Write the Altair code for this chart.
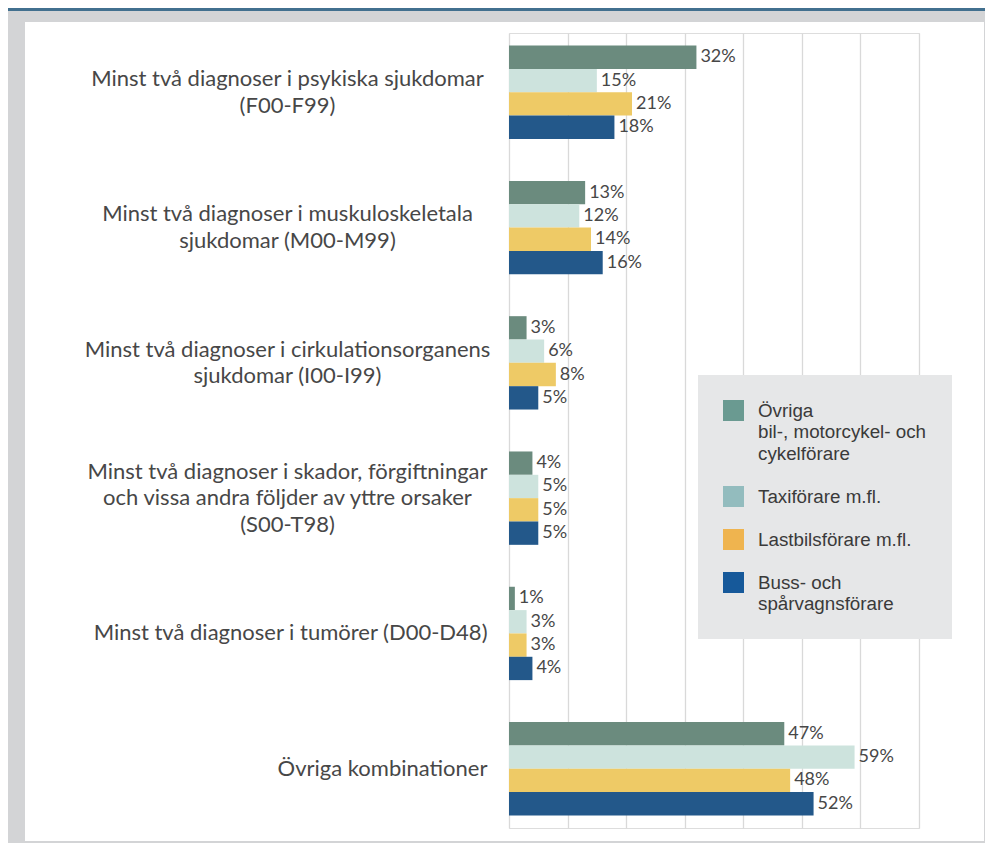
import altair as alt
import pandas as pd

categories = [
    "Minst två diagnoser i psykiska sjukdomar\n(F00-F99)",
    "Minst två diagnoser i muskuloskeletala\nsjukdomar (M00-M99)",
    "Minst två diagnoser i cirkulationsorganens\nsjukdomar (I00-I99)",
    "Minst två diagnoser i skador, förgiftningar\noch vissa andra följder av yttre orsaker\n(S00-T98)",
    "Minst två diagnoser i tumörer (D00-D48)",
    "Övriga kombinationer",
]
series = [
    "Övriga\nbil-, motorcykel- och\ncykelförare",
    "Taxiförare m.fl.",
    "Lastbilsförare m.fl.",
    "Buss- och\nspårvagnsförare",
]
ovriga = [32, 13, 3, 4, 1, 47]
taxi = [15, 12, 6, 5, 3, 59]
lastbil = [21, 14, 8, 5, 3, 48]
buss = [18, 16, 5, 5, 4, 52]

bar_colors = ["#6b8b7e", "#cde3dd", "#eeca66", "#23588a"]
legend_colors = ["#6a9a91", "#93bcbe", "#efb44f", "#16599a"]

rows = []
for s, vals in zip(series, [ovriga, taxi, lastbil, buss]):
    for c, v in zip(categories, vals):
        rows.append({"category": c, "series": s, "value": v})
df = pd.DataFrame(rows)

FONT = "Lato"
FRAME = "#d3d4d6"
LH = 26.5
nlines = "length(split(datum.label, '\\n'))"

y_enc = alt.Y(
    "category:N",
    sort=categories,
    scale=alt.Scale(paddingInner=0.31, paddingOuter=0.093),
    axis=alt.Axis(
        title=None,
        domain=False,
        ticks=False,
        labelExpr="split(datum.label, '\\n')",
        labelFont=FONT,
        labelFontSize=22,
        labelColor="#474747",
        labelLineHeight=LH,
        labelLimit=600,
        labelAlign=alt.condition(f"{nlines} == 1", alt.value("right"), alt.value("center")),
        labelPadding=alt.condition(f"{nlines} == 1", alt.value(22), alt.value(222)),
        labelOffset={
            "condition": [
                {"test": f"{nlines} == 3", "value": -LH},
                {"test": f"{nlines} == 2", "value": -LH / 2},
            ],
            "value": 0,
        },
    ),
)
yoff = alt.YOffset("series:N", sort=series, scale=alt.Scale(paddingInner=0, paddingOuter=0))
x_enc = alt.X(
    "value:Q",
    scale=alt.Scale(domain=[0, 70], nice=False),
    axis=alt.Axis(
        title=None,
        values=[0, 10, 20, 30, 40, 50, 60, 70],
        labels=False,
        ticks=False,
        domain=False,
        grid=True,
        gridColor="#d9d9d9",
        gridWidth=1.3,
    ),
)

one = pd.DataFrame({"k": [0]})
# grey frame around the white panel (decoration)
frame_left = alt.Chart(one).mark_rule(color=FRAME, strokeWidth=17).encode(
    x=alt.value(-492.5), y=alt.value(-25), y2=alt.value(810)
)
frame_top = alt.Chart(one).mark_rule(color=FRAME, strokeWidth=14).encode(
    x=alt.value(-501), x2=alt.value(476), y=alt.value(-18)
)
frame_bottom = alt.Chart(one).mark_rule(color=FRAME, strokeWidth=2).encode(
    x=alt.value(-501), x2=alt.value(476), y=alt.value(809)
)
frame_right = alt.Chart(one).mark_rule(color=FRAME, strokeWidth=1).encode(
    x=alt.value(475.5), y=alt.value(-25), y2=alt.value(810)
)
topline = alt.Chart(one).mark_rule(color="#42708f", strokeWidth=3).encode(
    x=alt.value(-501), x2=alt.value(476), y=alt.value(-23.5)
)

bars = alt.Chart(df).mark_bar().encode(
    y=y_enc,
    yOffset=yoff,
    x=x_enc,
    color=alt.Color("series:N", sort=series, scale=alt.Scale(domain=series, range=bar_colors), legend=None),
)

labels = alt.Chart(df).transform_calculate(
    lab="datum.value + '%'"
).mark_text(align="left", baseline="middle", dx=4, font=FONT, fontSize=18, color="#474747").encode(
    y=alt.Y("category:N", sort=categories),
    yOffset=yoff,
    x=alt.X("value:Q"),
    text="lab:N",
)

legend_layer = alt.Chart(df).mark_rect(strokeWidth=0).encode(
    x=alt.value(0), x2=alt.value(0), y=alt.value(0), y2=alt.value(0),
    color=alt.Color(
        "series:N",
        sort=series,
        scale=alt.Scale(domain=series, range=legend_colors),
        legend=alt.Legend(
            title=None,
            orient="none",
            legendX=189,
            legendY=342,
            padding=25,
            fillColor="#e6e7e8",
            symbolType="square",
            symbolSize=441,
            symbolStrokeWidth=0,
            symbolOpacity=1,
            labelExpr="split(datum.label, '\\n')",
            labelFont="Liberation Sans",
            labelFontSize=18.8,
            labelColor="#3a3a3a",
            labelLimit=400,
            labelOffset=14,
            rowPadding=22,
        ),
    ),
)

chart = alt.layer(
    bars, labels, legend_layer, frame_left, frame_top, frame_bottom, frame_right, topline
).resolve_scale(
    color="independent"
).properties(
    width=410,
    height=795,
    autosize=alt.AutoSizeParams(type="none"),
    padding={"left": 501, "top": 25, "right": 66, "bottom": 15},
    background="white",
).configure_view(stroke=None).configure(
    style={"guide-label": {"lineHeight": 21.7}}
)

chart.save("out.html", embed_options={"renderer": "svg", "actions": False})
